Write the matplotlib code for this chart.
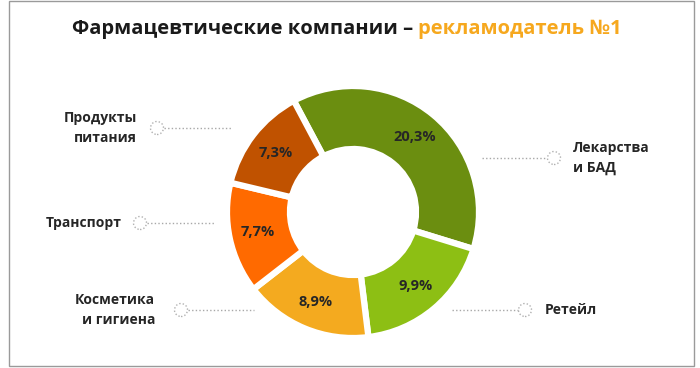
import matplotlib
matplotlib.use('Agg')
import matplotlib.pyplot as plt
from matplotlib.patches import Circle, Rectangle
import numpy as np

plt.rcParams['font.family'] = ['Open Sans', 'DejaVu Sans']

# данные
categories = ['Лекарства\nи БАД', 'Ретейл', 'Косметика\nи гигиена', 'Транспорт', 'Продукты\nпитания']
values = [20.3, 9.9, 8.9, 7.7, 7.3]
colors = ['#6b8e10', '#8dbf14', '#f4aa1f', '#ff6a00', '#c05200']

title_black = 'Фармацевтические компании – '
title_orange = 'рекламодатель №1'

W, H = 700, 368

# подписи: (x текста, y, выравнивание, x кружка, начало линии, конец линии)
label_pos = [
    (573, 158, 'left', 554, 482, 547),
    (545, 310, 'left', 525, 452, 518),
    (155, 310, 'right', 181, 188, 254),
    (122, 223, 'right', 140, 147, 214),
    (137, 128, 'right', 157, 164, 232),
]

fig = plt.figure(figsize=(7, 3.68), dpi=100)
ax = fig.add_axes([0, 0, 1, 1])

cx, cy, R = 353, H - 212, 126
wedges, _ = ax.pie(values, colors=colors, startangle=118, counterclock=False,
                   center=(cx, cy), radius=R, explode=[0.018] * len(values),
                   wedgeprops=dict(width=R - 63, edgecolor='white', linewidth=4.5),
                   frame=True)

for w, v in zip(wedges, values):
    ang = np.deg2rad((w.theta1 + w.theta2) / 2)
    r = R * 0.77
    ax.text(cx + r * np.cos(ang), cy + r * np.sin(ang), f'{v:.1f}%'.replace('.', ','),
            ha='center', va='center', fontsize=10.5, fontweight='bold', color='#262626')

for cat, (tx, ty, ha, ccx, x0, x1) in zip(categories, label_pos):
    y = H - ty
    ax.plot([x0, x1], [y, y], linestyle=(0, (1, 1.6)), color='#a8a8a8', lw=1)
    ax.add_patch(Circle((ccx, y), 6.5, facecolor='white', edgecolor='#b0b0b0',
                        lw=1, linestyle=(0, (1, 1.5))))
    ax.text(tx, y, cat, ha=ha, va='center', multialignment=ha, fontsize=10,
            fontweight='bold', color='#262626', linespacing=1.6)

# заголовок
t1 = ax.text(72, H - 29, title_black, ha='left', va='center', fontsize=14.5,
             fontweight='bold', color='#1a1a1a')
ax.annotate(title_orange, xy=(1, 0), xycoords=t1, va='bottom', ha='left',
            fontsize=14.5, fontweight='bold', color='#f6a81e')

ax.add_patch(Rectangle((9, H - 366), 685, 365, fill=False, edgecolor='#9a9a9a', lw=1))

ax.set_xlim(0, W)
ax.set_ylim(0, H)
ax.set_aspect('equal')
ax.axis('off')

fig.savefig('out.png', dpi=100)
